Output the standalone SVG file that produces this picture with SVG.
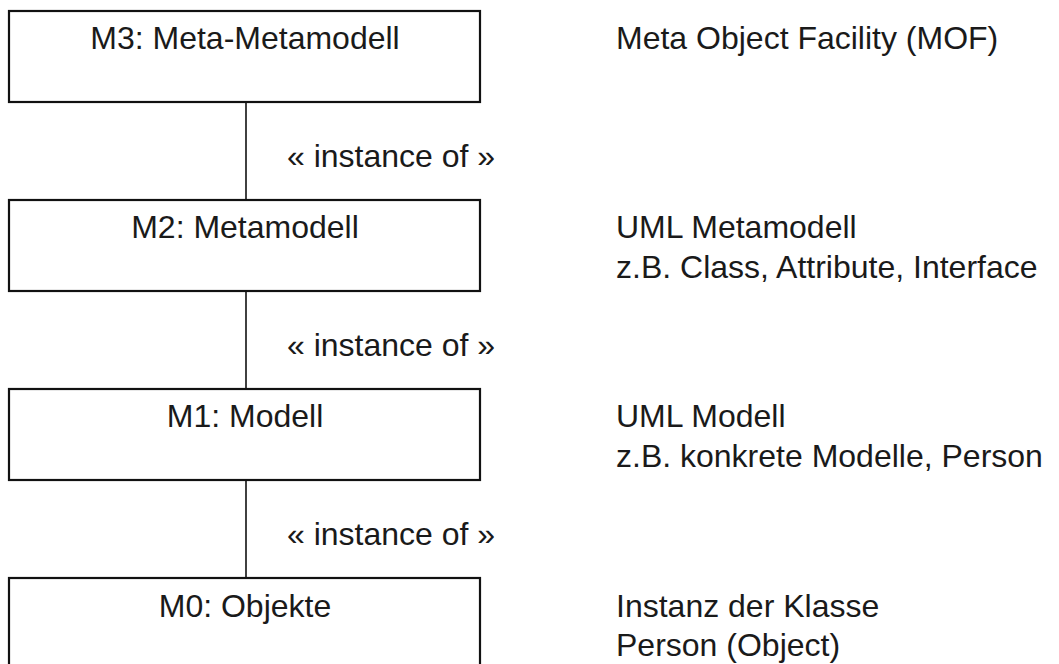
<svg xmlns="http://www.w3.org/2000/svg" width="1059" height="664" viewBox="0 0 1059 664">
<style>
.box{fill:#fff;stroke:#111;stroke-width:2.2}
.conn{stroke:#111;stroke-width:1.6;fill:none}
text{font-family:"Liberation Sans",Arial,sans-serif;font-size:32px;fill:#1a1a1a}
.c{text-anchor:middle}
</style>
<rect width="1059" height="664" fill="#fff"/>
<g id="connectors">
<line class="conn" x1="246" y1="102" x2="246" y2="200"/>
<line class="conn" x1="246" y1="291" x2="246" y2="389"/>
<line class="conn" x1="246" y1="480" x2="246" y2="578"/>
<text x="287" y="167">« instance of »</text>
<text x="287" y="356">« instance of »</text>
<text x="287" y="545">« instance of »</text>
</g>
<g id="m3">
<rect class="box" x="9" y="11" width="471" height="91"/>
<text class="c" x="245" y="49">M3: Meta-Metamodell</text>
</g>
<g id="m2">
<rect class="box" x="9" y="200" width="471" height="91"/>
<text class="c" x="245" y="238">M2: Metamodell</text>
</g>
<g id="m1">
<rect class="box" x="9" y="389" width="471" height="91"/>
<text class="c" x="245" y="427">M1: Modell</text>
</g>
<g id="m0">
<rect class="box" x="9" y="578" width="471" height="91"/>
<text class="c" x="245" y="617">M0: Objekte</text>
</g>
<g id="desc-m3">
<text x="616" y="49">Meta Object Facility (MOF)</text>
</g>
<g id="desc-m2">
<text x="616" y="238">UML Metamodell</text>
<text x="616" y="278">z.B. Class, Attribute, Interface</text>
</g>
<g id="desc-m1">
<text x="616" y="427">UML Modell</text>
<text x="616" y="467">z.B. konkrete Modelle, Person</text>
</g>
<g id="desc-m0">
<text x="616" y="617">Instanz der Klasse</text>
<text x="616" y="656">Person (Object)</text>
</g>
</svg>
